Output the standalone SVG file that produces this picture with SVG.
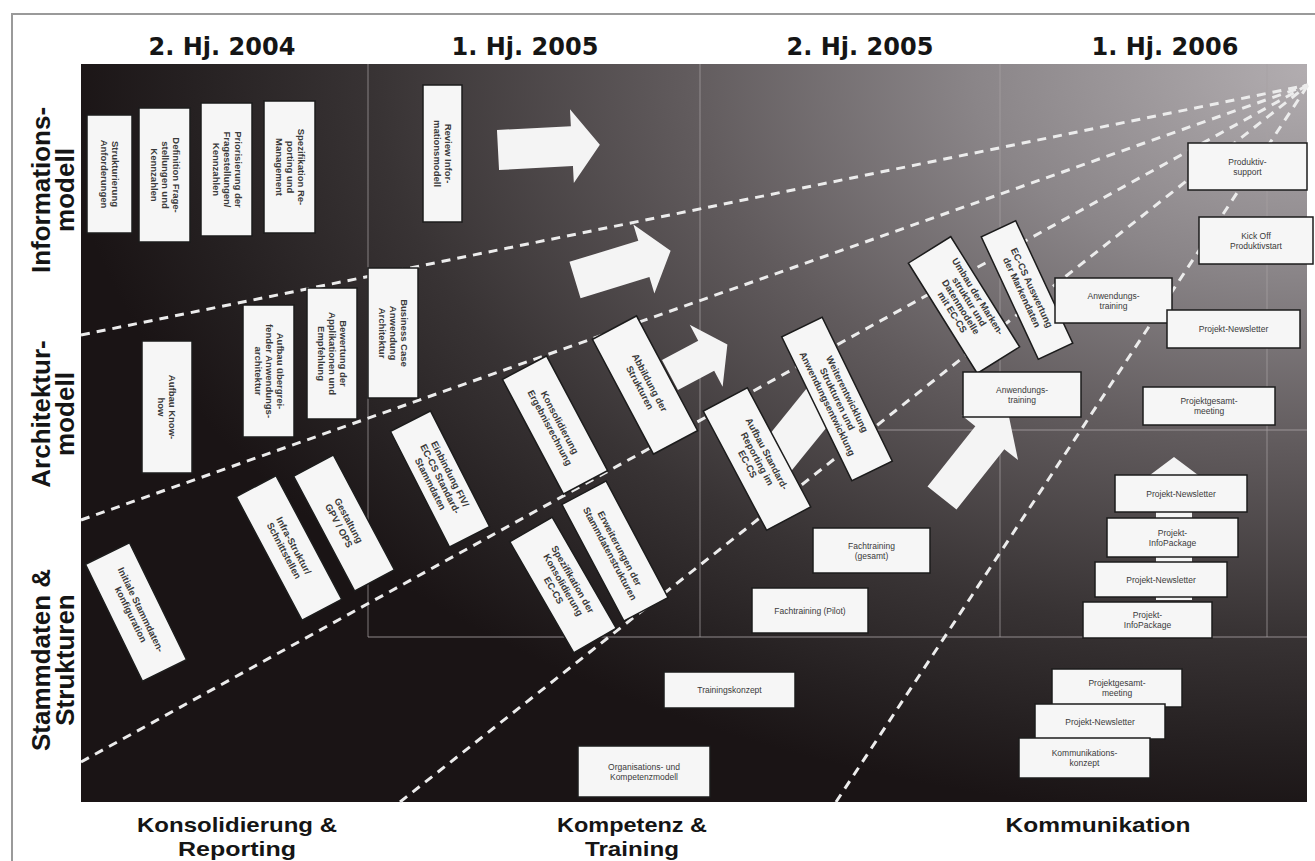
<svg xmlns="http://www.w3.org/2000/svg" width="1315" height="861" viewBox="0 0 1315 861">
  <defs>
    <radialGradient id="bgGrad" gradientUnits="userSpaceOnUse" cx="1310" cy="70" r="1250" gradientTransform="translate(1310 70) scale(1 0.6) translate(-1310 -70)">
      <stop offset="0" stop-color="#b2adb0"/>
      <stop offset="0.27" stop-color="#8a8588"/>
      <stop offset="0.5" stop-color="#615b5d"/>
      <stop offset="0.75" stop-color="#383334"/>
      <stop offset="0.9" stop-color="#252021"/>
      <stop offset="1" stop-color="#1a1415"/>
    </radialGradient>
    <style>
      .box { fill:#f6f6f6; stroke:#1c1c1c; stroke-width:1.5; }
      .bt { font-family:"Liberation Sans", Arial, sans-serif; font-size:8.5px; fill:#3a3a3a; text-anchor:middle; }
      .bv { font-weight:bold; font-size:9.5px; }
      .dash { stroke:#ececec; stroke-width:3; stroke-dasharray:9 7; fill:none; }
      .grid { stroke:#a8a2a4; stroke-width:1.3; opacity:0.55; }
      .arrow { fill:#f4f4f4; }
      .hdr { font-family:"DejaVu Sans", Verdana, sans-serif; font-weight:bold; font-size:24px; fill:#151515; text-anchor:middle; }
      .lbl { font-family:"Liberation Sans", Arial, sans-serif; font-weight:bold; font-size:26px; fill:#151515; text-anchor:middle; }
      .lbb { font-size:21px; }
    </style>
  </defs>

  <!-- page and frame -->
  <rect x="0" y="0" width="1315" height="861" fill="#ffffff"/>
  <path d="M12 861 V14 H1315" fill="none" stroke="#9a9a9a" stroke-width="2"/>

  <!-- dark planning area -->
  <rect id="plan-area" x="81" y="64" width="1226" height="738" fill="url(#bgGrad)"/>

  <!-- faint grid -->
  <g id="grid">
    <line class="grid" x1="368" y1="64" x2="368" y2="637"/>
    <line class="grid" x1="368" y1="637" x2="1307" y2="637"/>
    <line class="grid" x1="700" y1="64" x2="700" y2="637"/>
    <line class="grid" x1="1000" y1="64" x2="1000" y2="637"/>
    <line class="grid" x1="1267" y1="64" x2="1267" y2="637"/>
    <line class="grid" x1="840" y1="430" x2="1307" y2="430"/>
  </g>

  <!-- column headers -->
  <g id="headers">
    <text class="hdr" x="222" y="55">2. Hj. 2004</text>
    <text class="hdr" x="525" y="55">1. Hj. 2005</text>
    <text class="hdr" x="860" y="55">2. Hj. 2005</text>
    <text class="hdr" x="1165" y="55">1. Hj. 2006</text>
  </g>

  <!-- row labels -->
  <g id="row-labels">
    <text class="lbl" transform="translate(50 190) rotate(-90)"><tspan x="0" y="0">Informations-</tspan><tspan x="0" y="24">modell</tspan></text>
    <text class="lbl" transform="translate(50 414) rotate(-90)"><tspan x="0" y="0">Architektur-</tspan><tspan x="0" y="24">modell</tspan></text>
    <text class="lbl" transform="translate(50 660) rotate(-90)"><tspan x="0" y="0">Stammdaten &amp;</tspan><tspan x="0" y="24">Strukturen</tspan></text>
  </g>

  <!-- bottom labels -->
  <g id="track-labels">
    <text class="lbl lbb" x="237" y="832" textLength="200" lengthAdjust="spacingAndGlyphs">Konsolidierung &amp;</text>
    <text class="lbl lbb" x="237" y="856" textLength="118" lengthAdjust="spacingAndGlyphs">Reporting</text>
    <text class="lbl lbb" x="632" y="832" textLength="150" lengthAdjust="spacingAndGlyphs">Kompetenz &amp;</text>
    <text class="lbl lbb" x="632" y="856" textLength="94" lengthAdjust="spacingAndGlyphs">Training</text>
    <text class="lbl lbb" x="1098" y="832" textLength="185" lengthAdjust="spacingAndGlyphs">Kommunikation</text>
  </g>

  <!-- connectors: dashed guide rays and block arrows -->
  <g id="connectors">
    <line class="dash" x1="81" y1="335" x2="1308" y2="85"/>
    <line class="dash" x1="81" y1="520" x2="1308" y2="85"/>
    <line class="dash" x1="81" y1="762" x2="1308" y2="85"/>
    <line class="dash" x1="400" y1="802" x2="1308" y2="85"/>
    <line class="dash" x1="836" y1="802" x2="1308" y2="85"/>

    <path class="arrow" transform="translate(498 150) rotate(-3)" d="M0,-20 L74,-20 L74,-37 L102,0 L74,37 L74,20 L0,20 Z"/>
    <path class="arrow" transform="translate(575 280) rotate(-17)" d="M0,-19 L72,-19 L72,-36 L100,0 L72,36 L72,19 L0,19 Z"/>
    <path class="arrow" transform="translate(670 375) rotate(-28)" d="M0,-17 L41,-17 L41,-35 L65,0 L41,35 L41,17 L0,17 Z"/>
    <path class="arrow" transform="translate(768 468) rotate(-51)" d="M0,-20 L95,-20 L95,20 L0,20 Z"/>
    <path class="arrow" transform="translate(942 498) rotate(-51.6)" d="M0,-18.5 L77,-18.5 L77,-36 L107,0 L77,36 L77,18.5 L0,18.5 Z"/>
    <path class="arrow" fill="#e2e2e2" transform="translate(1174 600) rotate(-90)" d="M0,-18 L125,-18 L125,-24 L143,0 L125,24 L125,18 L0,18 Z"/>
  </g>

  <!-- Informationsmodell, 2. Hj. 2004 -->
  <g id="n-strukturierung" transform="translate(109.5 174) rotate(90)">
    <rect class="box" x="-59" y="-22.5" width="118" height="45"/>
    <text class="bt bv"><tspan x="0" y="-2">Strukturierung</tspan><tspan x="0" y="9">Anforderungen</tspan></text>
  </g>
  <g id="n-definition" transform="translate(164.5 175) rotate(90)">
    <rect class="box" x="-67" y="-25.5" width="134" height="51"/>
    <text class="bt bv"><tspan x="0" y="-8">Definition Frage-</tspan><tspan x="0" y="3">stellungen und</tspan><tspan x="0" y="14">Kennzahlen</tspan></text>
  </g>
  <g id="n-priorisierung" transform="translate(226.5 169.5) rotate(90)">
    <rect class="box" x="-66.5" y="-25.5" width="133" height="51"/>
    <text class="bt bv"><tspan x="0" y="-8">Priorisierung der</tspan><tspan x="0" y="3">Fragestellungen/</tspan><tspan x="0" y="14">Kennzahlen</tspan></text>
  </g>
  <g id="n-spezifikation-reporting" transform="translate(289.5 167) rotate(90)">
    <rect class="box" x="-66" y="-25.5" width="132" height="51"/>
    <text class="bt bv"><tspan x="0" y="-8">Spezifikation Re-</tspan><tspan x="0" y="3">porting und</tspan><tspan x="0" y="14">Management</tspan></text>
  </g>
  <g id="n-review" transform="translate(442.5 153.5) rotate(90)">
    <rect class="box" x="-68.5" y="-19.5" width="137" height="39"/>
    <text class="bt bv"><tspan x="0" y="-2">Review Infor-</tspan><tspan x="0" y="9">mationsmodell</tspan></text>
  </g>

  <!-- Architekturmodell -->
  <g id="n-aufbau-knowhow" transform="translate(167 407) rotate(90)">
    <rect class="box" x="-66" y="-25" width="132" height="50"/>
    <text class="bt bv"><tspan x="0" y="-2">Aufbau Know-</tspan><tspan x="0" y="9">how</tspan></text>
  </g>
  <g id="n-aufbau-architektur" transform="translate(268.5 371) rotate(90)">
    <rect class="box" x="-66" y="-25.5" width="132" height="51"/>
    <text class="bt bv"><tspan x="0" y="-8">Aufbau übergrei-</tspan><tspan x="0" y="3">fender Anwendungs-</tspan><tspan x="0" y="14">architektur</tspan></text>
  </g>
  <g id="n-bewertung" transform="translate(332 353.5) rotate(90)">
    <rect class="box" x="-65.5" y="-25" width="131" height="50"/>
    <text class="bt bv"><tspan x="0" y="-8">Bewertung der</tspan><tspan x="0" y="3">Applikationen und</tspan><tspan x="0" y="14">Empfehlung</tspan></text>
  </g>
  <g id="n-business-case" transform="translate(393 333) rotate(90)">
    <rect class="box" x="-65" y="-25" width="130" height="50"/>
    <text class="bt bv"><tspan x="0" y="-8">Business Case</tspan><tspan x="0" y="3">Anwendung</tspan><tspan x="0" y="14">Architektur</tspan></text>
  </g>

  <!-- tilted work packages -->
  <g id="n-stammdaten-konfiguration" transform="translate(136 612) rotate(64)">
    <rect class="box" x="-65" y="-24.5" width="130" height="49"/>
    <text class="bt bv"><tspan x="0" y="-2">Initiale Stammdaten-</tspan><tspan x="0" y="9">konfiguration</tspan></text>
  </g>
  <g id="n-infrastruktur" transform="translate(289 548) rotate(62)">
    <rect class="box" x="-70" y="-22.5" width="140" height="45"/>
    <text class="bt bv"><tspan x="0" y="-2">Infra-Struktur/</tspan><tspan x="0" y="9">Schnittstellen</tspan></text>
  </g>
  <g id="n-gestaltung" transform="translate(344 523) rotate(62)">
    <rect class="box" x="-65" y="-22.5" width="130" height="45"/>
    <text class="bt bv"><tspan x="0" y="-2">Gestaltung</tspan><tspan x="0" y="9">GPV / OPS</tspan></text>
  </g>
  <g id="n-einbindung" transform="translate(440 479) rotate(63)">
    <rect class="box" x="-65" y="-22.5" width="130" height="45"/>
    <text class="bt bv"><tspan x="0" y="-8">Einbindung FIV/</tspan><tspan x="0" y="3">EC-CS Standard-</tspan><tspan x="0" y="14">Stammdaten</tspan></text>
  </g>
  <g id="n-konsolidierung" transform="translate(555 425) rotate(62)">
    <rect class="box" x="-65" y="-25" width="130" height="50"/>
    <text class="bt bv"><tspan x="0" y="-2">Konsolidierung</tspan><tspan x="0" y="9">Ergebnisrechnung</tspan></text>
  </g>
  <g id="n-erweiterungen" transform="translate(615 551) rotate(62)">
    <rect class="box" x="-66" y="-25" width="132" height="50"/>
    <text class="bt bv"><tspan x="0" y="-2">Erweiterungen der</tspan><tspan x="0" y="9">Stammdatenstrukturen</tspan></text>
  </g>
  <g id="n-spezifikation-konsolidierung" transform="translate(563 585) rotate(60)">
    <rect class="box" x="-64" y="-24.5" width="128" height="49"/>
    <text class="bt bv"><tspan x="0" y="-8">Spezifikation der</tspan><tspan x="0" y="3">Konsolidierung</tspan><tspan x="0" y="14">EC-CS</tspan></text>
  </g>
  <g id="n-abbildung" transform="translate(645 385) rotate(62)">
    <rect class="box" x="-65" y="-25" width="130" height="50"/>
    <text class="bt bv"><tspan x="0" y="-2">Abbildung der</tspan><tspan x="0" y="9">Strukturen</tspan></text>
  </g>
  <g id="n-aufbau-reporting" transform="translate(757 459) rotate(62)">
    <rect class="box" x="-67.5" y="-25" width="135" height="50"/>
    <text class="bt bv"><tspan x="0" y="-8">Aufbau Standard-</tspan><tspan x="0" y="3">Reporting im</tspan><tspan x="0" y="14">EC-CS</tspan></text>
  </g>
  <g id="n-weiterentwicklung" transform="translate(837 399) rotate(64)">
    <rect class="box" x="-80" y="-22.5" width="160" height="45"/>
    <text class="bt bv"><tspan x="0" y="-8">Weiterentwicklung</tspan><tspan x="0" y="3">Strukturen und</tspan><tspan x="0" y="14">Anwendungsentwicklung</tspan></text>
  </g>
  <g id="n-umbau" transform="translate(964 305) rotate(58)">
    <rect class="box" x="-65" y="-25" width="130" height="50"/>
    <text class="bt bv"><tspan x="0" y="-13">Umbau der Marken-</tspan><tspan x="0" y="-3">struktur und</tspan><tspan x="0" y="7">Datenmodelle</tspan><tspan x="0" y="17">mit EC-CS</tspan></text>
  </g>
  <g id="n-eccs-auswertung" transform="translate(1027 290) rotate(65)">
    <rect class="box" x="-67.5" y="-19" width="135" height="38"/>
    <text class="bt bv"><tspan x="0" y="-2">EC-CS Auswertung</tspan><tspan x="0" y="9">der Markendaten</tspan></text>
  </g>

  <!-- horizontal work packages -->
  <g id="n-produktivsupport">
    <rect class="box" x="1188" y="143" width="119" height="47"/>
    <text class="bt"><tspan x="1247.5" y="164.5">Produktiv-</tspan><tspan x="1247.5" y="174.5">support</tspan></text>
  </g>
  <g id="n-kickoff">
    <rect class="box" x="1199" y="217" width="114" height="47"/>
    <text class="bt"><tspan x="1256" y="238.5">Kick Off</tspan><tspan x="1256" y="248.5">Produktivstart</tspan></text>
  </g>
  <g id="n-anwendungstraining-2">
    <rect class="box" x="1055" y="278" width="117" height="45"/>
    <text class="bt"><tspan x="1113.5" y="298.5">Anwendungs-</tspan><tspan x="1113.5" y="308.5">training</tspan></text>
  </g>
  <g id="n-newsletter-1">
    <rect class="box" x="1167" y="310" width="133" height="38"/>
    <text class="bt" x="1233.5" y="332">Projekt-Newsletter</text>
  </g>
  <g id="n-anwendungstraining-1">
    <rect class="box" x="963" y="372" width="118" height="45"/>
    <text class="bt"><tspan x="1022" y="392.5">Anwendungs-</tspan><tspan x="1022" y="402.5">training</tspan></text>
  </g>
  <g id="n-gesamtmeeting-2">
    <rect class="box" x="1143" y="387" width="132" height="38"/>
    <text class="bt"><tspan x="1209" y="404">Projektgesamt-</tspan><tspan x="1209" y="414">meeting</tspan></text>
  </g>
  <g id="n-newsletter-2">
    <rect class="box" x="1115" y="475" width="132" height="37"/>
    <text class="bt" x="1181" y="496.5">Projekt-Newsletter</text>
  </g>
  <g id="n-infopackage-2">
    <rect class="box" x="1107" y="518" width="131" height="39"/>
    <text class="bt"><tspan x="1172.5" y="535.5">Projekt-</tspan><tspan x="1172.5" y="545.5">InfoPackage</tspan></text>
  </g>
  <g id="n-newsletter-3">
    <rect class="box" x="1095" y="562" width="132" height="35"/>
    <text class="bt" x="1161" y="582.5">Projekt-Newsletter</text>
  </g>
  <g id="n-infopackage-1">
    <rect class="box" x="1083" y="602" width="129" height="36"/>
    <text class="bt"><tspan x="1147.5" y="618">Projekt-</tspan><tspan x="1147.5" y="628">InfoPackage</tspan></text>
  </g>
  <g id="n-fachtraining-gesamt">
    <rect class="box" x="813" y="528" width="117" height="45"/>
    <text class="bt"><tspan x="871.5" y="548.5">Fachtraining</tspan><tspan x="871.5" y="558.5">(gesamt)</tspan></text>
  </g>
  <g id="n-fachtraining-pilot">
    <rect class="box" x="752" y="588" width="116" height="45"/>
    <text class="bt" x="810" y="613.5">Fachtraining (Pilot)</text>
  </g>
  <g id="n-trainingskonzept">
    <rect class="box" x="664" y="672" width="131" height="36"/>
    <text class="bt" x="729.5" y="693">Trainingskonzept</text>
  </g>
  <g id="n-organisationsmodell">
    <rect class="box" x="578" y="746" width="132" height="51"/>
    <text class="bt"><tspan x="644" y="769.5">Organisations- und</tspan><tspan x="644" y="779.5">Kompetenzmodell</tspan></text>
  </g>
  <g id="n-gesamtmeeting-1">
    <rect class="box" x="1052" y="669" width="130" height="38"/>
    <text class="bt"><tspan x="1117" y="686">Projektgesamt-</tspan><tspan x="1117" y="696">meeting</tspan></text>
  </g>
  <g id="n-newsletter-0">
    <rect class="box" x="1035" y="704" width="130" height="35"/>
    <text class="bt" x="1100" y="724.5">Projekt-Newsletter</text>
  </g>
  <g id="n-kommunikationskonzept">
    <rect class="box" x="1019" y="738" width="131" height="40"/>
    <text class="bt"><tspan x="1084.5" y="756">Kommunikations-</tspan><tspan x="1084.5" y="766">konzept</tspan></text>
  </g>
</svg>
